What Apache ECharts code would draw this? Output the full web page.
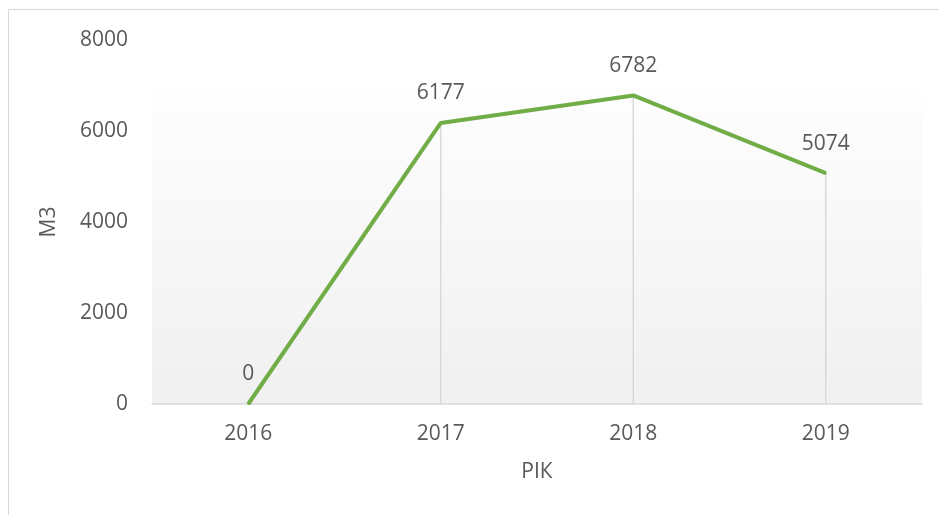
<!DOCTYPE html>
<html>
<head>
<meta charset="utf-8">
<script src="https://cdn.jsdelivr.net/npm/echarts@6/dist/echarts.min.js"></script>
<style>
html, body { margin: 0; padding: 0; background: #fff; }
#chart { width: 939px; height: 515px; }
</style>
</head>
<body>
<div id="chart"></div>
<script>
// data
const years = ['2016', '2017', '2018', '2019'];
const volumes = [0, 6177, 6782, 5074];
const yTicks = { min: 0, max: 8000, interval: 2000 };

const font = '"Open Sans", "Liberation Sans", sans-serif';
const textColor = '#595959';

const chart = echarts.init(document.getElementById('chart'));

const option = {
    animation: false,
    textStyle: { fontFamily: font },
    graphic: [
    {
        type: 'rect',
        shape: { x: 8.5, y: 9.5, width: 960, height: 540 },
        style: { fill: 'none', stroke: '#d9d9d9', lineWidth: 1 },
        silent: true
    }
    ],
    grid: [
    {
        // shaded plot area (Excel style gradient)
        left: 152, right: 17, top: 85, bottom: 111,
        show: true,
        borderWidth: 0,
        backgroundColor: new echarts.graphic.LinearGradient(0, 0, 0, 1, [
        { offset: 0, color: '#fefefe' },
        { offset: 1, color: '#f0f0f0' }
        ])
    },
    {
        left: 152, right: 17, top: 40, bottom: 111
    }
    ],
    xAxis: [
    { gridIndex: 0, type: 'category', data: years, show: false },
    {
        gridIndex: 1,
        type: 'category',
        data: years,
        boundaryGap: true,
        name: 'РІК',
        nameLocation: 'middle',
        nameGap: 58,
        nameTextStyle: { fontSize: 21, color: textColor, fontFamily: font },
        axisLine: { lineStyle: { color: '#d9d9d9', width: 1.5 } },
        axisTick: { show: false },
        axisLabel: { fontSize: 21, color: textColor, margin: 20, fontFamily: font },
        splitLine: { show: false }
    }
    ],
    yAxis: [
    { gridIndex: 0, type: 'value', show: false },
    {
        gridIndex: 1,
        type: 'value',
        min: yTicks.min,
        max: yTicks.max,
        interval: yTicks.interval,
        name: 'М3',
        nameLocation: 'middle',
        nameGap: 92,
        nameRotate: 90,
        nameTextStyle: { fontSize: 21, color: textColor, fontFamily: font },
        axisLine: { show: false },
        axisTick: { show: false },
        axisLabel: {
        fontSize: 21, color: textColor, margin: 24, fontFamily: font,
        formatter: v => String(v)
        },
        splitLine: { show: false }
    }
    ],
    series: [
    {
        // drop lines
        type: 'bar',
        xAxisIndex: 1,
        yAxisIndex: 1,
        data: volumes,
        barWidth: 1.5,
        itemStyle: { color: '#d9d9d9' },
        silent: true
    },
    {
        name: 'М3',
        type: 'line',
        xAxisIndex: 1,
        yAxisIndex: 1,
        data: volumes,
        symbol: 'circle',
        symbolSize: 2,
        showSymbol: true,
        itemStyle: { color: '#70ad47' },
        lineStyle: { color: '#70ad47', width: 4 },
        label: {
        show: true,
        position: 'top',
        distance: 18,
        fontSize: 21,
        color: textColor,
        fontFamily: font,
        formatter: p => String(p.value)
        }
    }
    ]
};

chart.setOption(option);
</script>
</body>
</html>
